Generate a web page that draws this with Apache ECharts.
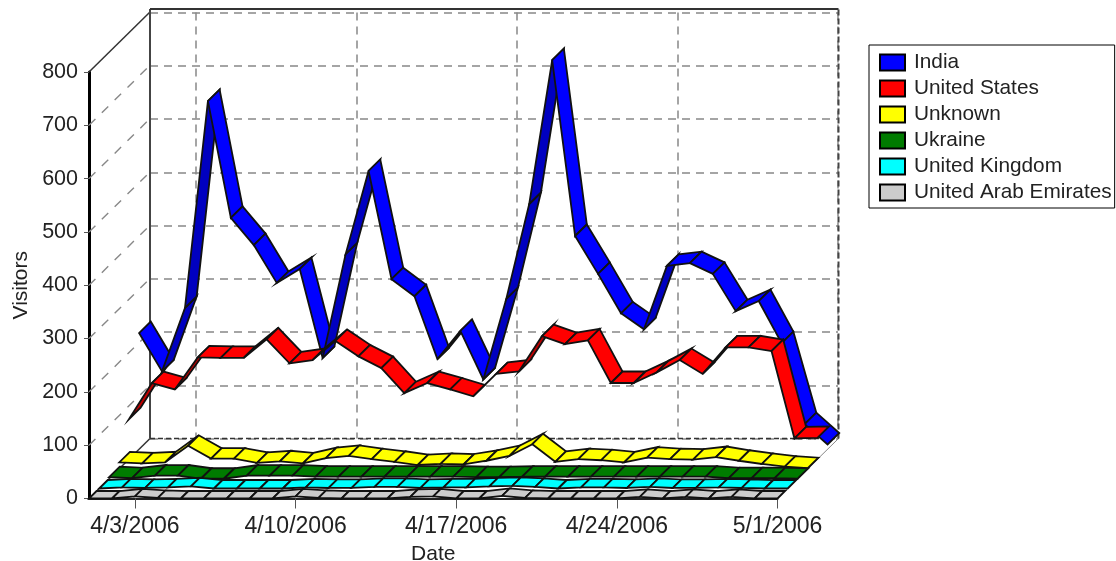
<!DOCTYPE html>
<html>
<head>
<meta charset="utf-8">
<style>
    html, body { margin: 0; padding: 0; background: #fff; }
    #chart { width: 1116px; height: 561px; }
</style>
<script src="https://cdn.jsdelivr.net/npm/echarts@6/dist/echarts.min.js"></script>
</head>
<body>
<div id="chart"></div>
<script>
var dates = ['4/1/2006','4/2/2006','4/3/2006','4/4/2006','4/5/2006','4/6/2006','4/7/2006','4/8/2006','4/9/2006','4/10/2006',
    '4/11/2006','4/12/2006','4/13/2006','4/14/2006','4/15/2006','4/16/2006','4/17/2006','4/18/2006','4/19/2006','4/20/2006',
    '4/21/2006','4/22/2006','4/23/2006','4/24/2006','4/25/2006','4/26/2006','4/27/2006','4/28/2006','4/29/2006','4/30/2006','5/1/2006'];
var india = [218,146,265,653,434,383,312,338,171,366,522,319,287,169,222,131,282,460,730,400,329,255,225,344,349,329,259,278,199,47,9];
var unitedStates = [75,143,131,191,190,190,225,180,186,222,193,171,124,143,131,118,160,165,231,216,223,143,143,163,186,160,210,210,203,39,40];
var unknown = [12,10,12,43,19,19,11,14,10,20,24,18,13,7,9,8,15,24,46,13,18,16,12,21,18,17,22,15,9,4,1];
var ukraine = [3,1,6,6,0,0,6,6,6,4,4,4,4,4,4,4,3,3,4,4,4,4,4,4,4,4,4,1,1,1,0];
var unitedKingdom = [0,2,1,2,4,0,0,0,0,2,1,1,3,3,1,2,2,4,5,3,0,2,2,1,3,1,1,2,1,0,0];
var unitedArabEmirates = [0,0,4,1,0,0,0,0,0,4,1,0,0,0,3,4,0,0,5,1,0,0,0,0,3,0,3,0,3,0,0];
var yTicks = [0,100,200,300,400,500,600,700,800];

// depth of the fake 3d box, in pixels
var depthX = 61;
var depthY = 60;
var bands = 6;

var ribbons = [
    { name: 'India', values: india, color: '#0000ff', dark: '#0000c0', thick: 1.15 },
    { name: 'United States', values: unitedStates, color: '#ff0000', dark: '#c00000', thick: 1.15 },
    { name: 'Unknown', values: unknown, color: '#ffff00', dark: '#c0c000', thick: 1.05 },
    { name: 'Ukraine', values: ukraine, color: '#007b00', dark: '#005c00', thick: 1.05 },
    { name: 'United Kingdom', values: unitedKingdom, color: '#00ffff', dark: '#00c0c0', thick: 0.85 },
    { name: 'United Arab Emirates', values: unitedArabEmirates, color: '#cccccc', dark: '#a0a0a0', thick: 0.75 }
];

function shift(pt, depth) {
    return [pt[0] + depth * depthX, pt[1] - depth * depthY];
}

function ribbonSeries(r, idx) {
    var extra = Math.max(r.thick - 1, 0) / 2;
    var front = (bands - 1 - idx - extra) / bands;
    var back = front + r.thick / bands;
    return {
        name: r.name,
        type: 'custom',
        xAxisIndex: 0,
        yAxisIndex: 0,
        z: 10 + idx,
        clip: false,
        itemStyle: { color: r.color, borderColor: '#000', borderWidth: 2 },
        data: r.values.slice(0, -1).map(function (v, i) { return [i, v, i + 1, r.values[i + 1]]; }),
        renderItem: function (params, api) {
            var a = api.coord([api.value(0), api.value(1)]);
            var b = api.coord([api.value(2), api.value(3)]);
            var p0 = shift(a, front), p1 = shift(b, front), p2 = shift(b, back), p3 = shift(a, back);
            // steeper than the depth direction = we look at the underside
            var cross = (p1[0] - p0[0]) * (p3[1] - p0[1]) - (p1[1] - p0[1]) * (p3[0] - p0[0]);
            return {
                type: 'polygon',
                shape: { points: [p0, p1, p2, p3] },
                style: { fill: cross > 0 ? r.dark : r.color, stroke: '#111', lineWidth: 1.8, lineJoin: 'miter' }
            };
        }
    };
}

function line(p, q, color, width, dash) {
    return {
        type: 'line',
        shape: { x1: p[0], y1: p[1], x2: q[0], y2: q[1] },
        style: { stroke: color, lineWidth: width, lineDash: dash || null }
    };
}

// walls: side diagonals, floor edges, top and right border
var wallSeries = {
    type: 'custom',
    xAxisIndex: 0,
    yAxisIndex: 0,
    z: 3,
    clip: false,
    silent: true,
    data: [[0]],
    renderItem: function (params, api) {
        var last = dates.length - 1;
        var o = api.coord([0, 0]);
        var r = api.coord([last, 0]);
        var t = api.coord([0, 800]);
        var tr = api.coord([last, 800]);
        var kids = [];
        yTicks.slice(1, -1).forEach(function (v) {
            var p = api.coord([0, v]);
            kids.push(line(p, shift(p, 1), '#888', 1.4, [9, 9]));
        });
        kids.push(line(o, shift(o, 1), '#333', 1.5));
        kids.push(line(t, shift(t, 1), '#333', 1.5));
        kids.push(line(r, shift(r, 1), '#888', 1));
        var top = [shift(t, 1)[0], shift(t, 1)[1] - 3], topR = [shift(tr, 1)[0], shift(tr, 1)[1] - 3];
        kids.push(line(shift(o, 1), top, '#444', 2));
        kids.push(line(top, topR, '#333', 2));
        kids.push(line(shift(o, 1), shift(r, 1), '#333', 1.5, [5, 3]));
        kids.push(line(shift(r, 1), topR, '#444', 2, [6, 3]));
        return { type: 'group', children: kids };
    }
};

var axisFont = { fontFamily: 'Liberation Sans', color: '#222' };
var tickEvery = function (i) { return (i - 2) % 7 === 0; };

var option = {
    animation: false,
    backgroundColor: '#fff',
    grid: [
        { left: 89, top: 72, width: 688.5, height: 426.5, outerBoundsMode: 'none' },
        { left: 150, top: 12.5, width: 688, height: 426, outerBoundsMode: 'none' }
    ],
    legend: {
        data: ribbons.map(function (r) { return r.name; }),
        orient: 'vertical',
        icon: 'rect',
        left: 869,
        top: 45,
        padding: [7, 3, 5, 10],
        itemWidth: 25,
        itemHeight: 16,
        itemGap: 5,
        itemStyle: { borderColor: '#000', borderWidth: 2 },
        borderColor: '#000',
        borderWidth: 1,
        textStyle: { fontFamily: 'Liberation Sans', fontSize: 20.8, color: '#222', lineHeight: 21, padding: [0, 0, 0, 4] },
        selectedMode: false
    },
    xAxis: [
        {
            type: 'category',
            gridIndex: 0,
            data: dates,
            boundaryGap: false,
            name: 'Date',
            nameLocation: 'middle',
            nameGap: 43,
            nameTextStyle: Object.assign({ fontSize: 21 }, axisFont),
            axisLine: { onZero: false, lineStyle: { color: '#222', width: 2 } },
            axisTick: { interval: tickEvery, length: 10, lineStyle: { color: '#555', width: 1 } },
            axisLabel: Object.assign({ interval: tickEvery, fontSize: 23, margin: 17, hideOverlap: false }, axisFont),
            splitLine: { show: false }
        },
        {
            type: 'category',
            gridIndex: 1,
            data: dates,
            boundaryGap: false,
            axisLine: { show: false },
            axisTick: { show: false },
            axisLabel: { show: false },
            splitLine: { show: true, interval: tickEvery, lineStyle: { color: '#888', width: 1.5, type: [8, 6] } }
        }
    ],
    yAxis: [
        {
            type: 'value',
            gridIndex: 0,
            min: 0,
            max: 800,
            interval: 100,
            name: 'Visitors',
            nameLocation: 'middle',
            nameGap: 56,
            nameTextStyle: Object.assign({ fontSize: 21 }, axisFont),
            axisLine: { show: true, lineStyle: { color: '#000', width: 3 } },
            axisTick: { show: true, length: 5, lineStyle: { color: '#555', width: 1 } },
            axisLabel: Object.assign({ fontSize: 21.5, margin: 11 }, axisFont),
            splitLine: { show: false }
        },
        {
            type: 'value',
            gridIndex: 1,
            min: 0,
            max: 800,
            interval: 100,
            axisLine: { show: false },
            axisTick: { show: false },
            axisLabel: { show: false },
            splitLine: { show: true, lineStyle: { color: '#888', width: 1.5, type: [8, 6] } }
        }
    ],
    series: [wallSeries].concat(ribbons.map(ribbonSeries))
};

var chart = echarts.init(document.getElementById('chart'), null, { renderer: 'canvas' });
chart.setOption(option);
</script>
</body>
</html>
